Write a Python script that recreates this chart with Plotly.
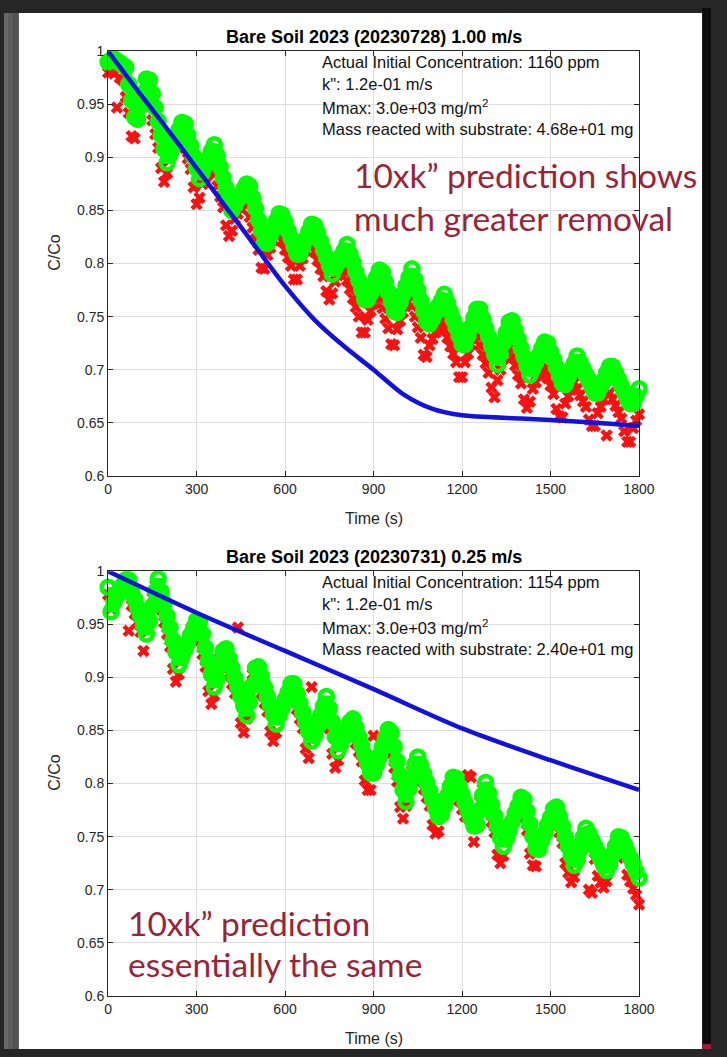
import plotly.graph_objects as go

W, H = 727, 1057

# sampling grid of the measured series (s)
time_s = list(range(0, 1810, 10))

# ---- 2023-07-28, 1.00 m/s ----
top_green = [
    0.990, 0.992, 0.993, 0.991, 0.989, 0.987, 0.985, 0.969, 0.954, 0.938,
    0.936, 0.949, 0.961, 0.974, 0.973, 0.960, 0.947, 0.934, 0.921, 0.908,
    0.895, 0.903, 0.910, 0.918, 0.926, 0.933, 0.932, 0.921, 0.911, 0.901,
    0.890, 0.880, 0.886, 0.893, 0.899, 0.906, 0.912, 0.902, 0.891, 0.881,
    0.871, 0.860, 0.850, 0.855, 0.860, 0.865, 0.870, 0.875, 0.873, 0.862,
    0.852, 0.841, 0.831, 0.820, 0.819, 0.826, 0.833, 0.840, 0.847, 0.846,
    0.839, 0.831, 0.824, 0.816, 0.809, 0.809, 0.816, 0.823, 0.830, 0.837,
    0.836, 0.829, 0.821, 0.813, 0.806, 0.798, 0.790, 0.796, 0.801, 0.807,
    0.812, 0.818, 0.809, 0.801, 0.792, 0.784, 0.775, 0.766, 0.766, 0.772,
    0.780, 0.787, 0.794, 0.792, 0.783, 0.773, 0.764, 0.755, 0.754, 0.763,
    0.771, 0.779, 0.787, 0.795, 0.785, 0.775, 0.765, 0.755, 0.745, 0.743,
    0.748, 0.754, 0.760, 0.765, 0.771, 0.763, 0.755, 0.747, 0.740, 0.732,
    0.724, 0.724, 0.732, 0.740, 0.749, 0.757, 0.757, 0.748, 0.739, 0.731,
    0.722, 0.714, 0.705, 0.715, 0.725, 0.735, 0.745, 0.746, 0.737, 0.729,
    0.720, 0.712, 0.703, 0.695, 0.701, 0.707, 0.713, 0.720, 0.726, 0.725,
    0.717, 0.710, 0.702, 0.694, 0.687, 0.686, 0.693, 0.700, 0.706, 0.713,
    0.707, 0.701, 0.695, 0.690, 0.684, 0.678, 0.678, 0.684, 0.690, 0.697,
    0.703, 0.703, 0.697, 0.691, 0.685, 0.679, 0.673, 0.668, 0.668, 0.675,
    0.682,
]
top_red = [
    0.980, 0.981, 0.979, 0.947, 0.975, 0.973, 0.957, 0.942, 0.920, 0.918,
    0.937, 0.949, 0.962, 0.961, 0.948, 0.935, 0.922, 0.909, 0.890, 0.877,
    0.885, 0.898, 0.906, 0.914, 0.921, 0.920, 0.909, 0.899, 0.889, 0.872,
    0.856, 0.862, 0.875, 0.881, 0.888, 0.894, 0.884, 0.873, 0.863, 0.853,
    0.836, 0.826, 0.831, 0.842, 0.847, 0.852, 0.857, 0.855, 0.844, 0.834,
    0.823, 0.813, 0.796, 0.795, 0.808, 0.815, 0.822, 0.829, 0.828, 0.821,
    0.813, 0.806, 0.798, 0.785, 0.785, 0.798, 0.805, 0.812, 0.819, 0.818,
    0.811, 0.803, 0.795, 0.788, 0.774, 0.766, 0.772, 0.783, 0.789, 0.794,
    0.793, 0.784, 0.776, 0.767, 0.759, 0.750, 0.735, 0.735, 0.747, 0.755,
    0.762, 0.769, 0.767, 0.758, 0.748, 0.739, 0.724, 0.723, 0.738, 0.746,
    0.754, 0.762, 0.770, 0.760, 0.750, 0.740, 0.730, 0.714, 0.712, 0.723,
    0.729, 0.735, 0.740, 0.746, 0.738, 0.730, 0.722, 0.715, 0.707, 0.693,
    0.693, 0.707, 0.715, 0.724, 0.732, 0.732, 0.723, 0.714, 0.706, 0.697,
    0.683, 0.674, 0.690, 0.700, 0.710, 0.720, 0.721, 0.712, 0.704, 0.695,
    0.687, 0.672, 0.664, 0.670, 0.682, 0.688, 0.695, 0.701, 0.700, 0.692,
    0.685, 0.677, 0.663, 0.656, 0.655, 0.668, 0.675, 0.681, 0.688, 0.682,
    0.676, 0.670, 0.665, 0.653, 0.647, 0.647, 0.659, 0.665, 0.672, 0.638,
    0.678, 0.672, 0.666, 0.660, 0.654, 0.642, 0.632, 0.632, 0.645, 0.652,
    0.658,
]
top_model_t = [0, 100, 200, 300, 400, 500, 600, 700, 800, 900, 1000, 1100,
               1200, 1400, 1600, 1800]
top_model = [1.000, 0.963, 0.927, 0.890, 0.853, 0.816, 0.779, 0.747, 0.722,
             0.700, 0.677, 0.663, 0.657, 0.654, 0.651, 0.647]

# ---- 2023-07-31, 0.25 m/s ----
bot_green = [
    0.985, 0.962, 0.971, 0.977, 0.982, 0.987, 0.992, 0.992, 0.983, 0.974,
    0.966, 0.958, 0.949, 0.941, 0.953, 0.967, 0.981, 0.993, 0.981, 0.970,
    0.958, 0.947, 0.935, 0.924, 0.912, 0.919, 0.926, 0.933, 0.940, 0.947,
    0.954, 0.953, 0.941, 0.928, 0.916, 0.903, 0.891, 0.899, 0.912, 0.925,
    0.927, 0.918, 0.909, 0.900, 0.891, 0.882, 0.873, 0.864, 0.877, 0.893,
    0.909, 0.910, 0.901, 0.891, 0.882, 0.874, 0.865, 0.856, 0.864, 0.871,
    0.879, 0.886, 0.894, 0.894, 0.885, 0.876, 0.867, 0.858, 0.849, 0.840,
    0.845, 0.854, 0.864, 0.873, 0.882, 0.871, 0.858, 0.844, 0.831, 0.838,
    0.844, 0.851, 0.858, 0.861, 0.853, 0.844, 0.836, 0.827, 0.819, 0.810,
    0.810, 0.818, 0.826, 0.835, 0.843, 0.851, 0.848, 0.835, 0.821, 0.808,
    0.794, 0.783, 0.795, 0.806, 0.818, 0.825, 0.817, 0.809, 0.801, 0.793,
    0.785, 0.777, 0.769, 0.771, 0.779, 0.788, 0.797, 0.806, 0.805, 0.797,
    0.790, 0.782, 0.775, 0.767, 0.760, 0.761, 0.775, 0.789, 0.801, 0.791,
    0.780, 0.770, 0.760, 0.749, 0.741, 0.748, 0.756, 0.764, 0.772, 0.779,
    0.787, 0.785, 0.774, 0.762, 0.750, 0.739, 0.738, 0.746, 0.753, 0.761,
    0.768, 0.776, 0.778, 0.769, 0.760, 0.750, 0.741, 0.732, 0.723, 0.728,
    0.738, 0.749, 0.758, 0.753, 0.747, 0.741, 0.735, 0.729, 0.723, 0.718,
    0.724, 0.733, 0.741, 0.750, 0.749, 0.743, 0.736, 0.730, 0.724, 0.717,
    0.711,
]
bot_red = [
    0.978, 0.965, 0.971, 0.976, 0.981, 0.986, 0.986, 0.944, 0.968, 0.960,
    0.952, 0.943, 0.925, 0.947, 0.961, 0.975, 0.987, 0.975, 0.964, 0.952,
    0.941, 0.929, 0.908, 0.896, 0.903, 0.920, 0.927, 0.934, 0.941, 0.948,
    0.947, 0.935, 0.922, 0.910, 0.887, 0.875, 0.883, 0.906, 0.919, 0.921,
    0.912, 0.903, 0.894, 0.885, 0.947, 0.857, 0.848, 0.861, 0.887, 0.903,
    0.904, 0.895, 0.885, 0.876, 0.868, 0.849, 0.840, 0.848, 0.865, 0.873,
    0.880, 0.888, 0.888, 0.879, 0.870, 0.861, 0.852, 0.833, 0.824, 0.891,
    0.848, 0.858, 0.867, 0.876, 0.865, 0.852, 0.828, 0.815, 0.822, 0.838,
    0.845, 0.852, 0.855, 0.847, 0.838, 0.830, 0.821, 0.803, 0.794, 0.794,
    0.845, 0.820, 0.829, 0.837, 0.845, 0.842, 0.829, 0.815, 0.802, 0.778,
    0.767, 0.779, 0.800, 0.812, 0.819, 0.811, 0.803, 0.795, 0.787, 0.779,
    0.761, 0.753, 0.755, 0.773, 0.782, 0.791, 0.800, 0.799, 0.791, 0.784,
    0.776, 0.769, 0.808, 0.806, 0.745, 0.759, 0.783, 0.795, 0.785, 0.774,
    0.764, 0.754, 0.733, 0.725, 0.732, 0.750, 0.758, 0.766, 0.773, 0.781,
    0.779, 0.768, 0.756, 0.734, 0.723, 0.722, 0.740, 0.747, 0.755, 0.762,
    0.770, 0.772, 0.763, 0.754, 0.744, 0.725, 0.716, 0.707, 0.712, 0.732,
    0.743, 0.752, 0.747, 0.700, 0.697, 0.729, 0.713, 0.707, 0.702, 0.708,
    0.727, 0.735, 0.744, 0.743, 0.737, 0.730, 0.714, 0.708, 0.701, 0.695,
    0.686,
]
bot_model_t = [0, 300, 600, 900, 1200, 1500, 1800]
bot_model = [1.000, 0.961, 0.925, 0.889, 0.852, 0.822, 0.794]

y_ticks = [0.6, 0.65, 0.7, 0.75, 0.8, 0.85, 0.9, 0.95, 1.0]
y_tick_text = ["0.6", "0.65", "0.7", "0.75", "0.8", "0.85", "0.9", "0.95", "1"]
x_ticks = [0, 300, 600, 900, 1200, 1500, 1800]

panels = [
    dict(title="Bare Soil 2023 (20230728) 1.00 m/s", green=top_green,
         red=top_red, mt=top_model_t, m=top_model,
         info=["Actual Initial Concentration: 1160 ppm", "k\": 1.2e-01 m/s",
               "Mmax: 3.0e+03 mg/m<sup>2</sup>",
               "Mass reacted with substrate: 4.68e+01 mg"],
         top=44, bottom=475),
    dict(title="Bare Soil 2023 (20230731) 0.25 m/s", green=bot_green,
         red=bot_red, mt=bot_model_t, m=bot_model,
         info=["Actual Initial Concentration: 1154 ppm", "k\": 1.2e-01 m/s",
               "Mmax: 3.0e+03 mg/m<sup>2</sup>",
               "Mass reacted with substrate: 2.40e+01 mg"],
         top=572, bottom=1003),
]

X0, X1 = 107, 653
AX_FONT = "Liberation Sans, Arial, sans-serif"
INK = "#262626"


def fx(px):
    return px / W


def fy(py):
    return 1 - py / H


fig = go.Figure()
annotations = []

for i, p in enumerate(panels, start=1):
    xa = "x" if i == 1 else f"x{i}"
    ya = "y" if i == 1 else f"y{i}"
    # measured series
    fig.add_trace(go.Scatter(
        x=time_s, y=p["red"], mode="markers", xaxis=xa, yaxis=ya,
        marker=dict(symbol="x", size=11, color="#ff1010", line=dict(width=0)),
        cliponaxis=False, showlegend=False))
    fig.add_trace(go.Scatter(
        x=time_s, y=p["green"], mode="lines+markers", xaxis=xa, yaxis=ya,
        line=dict(color="#00ff00", width=9),
        marker=dict(symbol="circle-open", size=13, color="#00ff00",
                    line=dict(width=4.5, color="#00ff00")),
        cliponaxis=False, showlegend=False))
    # model prediction
    fig.add_trace(go.Scatter(
        x=p["mt"], y=p["m"], mode="lines", xaxis=xa, yaxis=ya,
        line=dict(color="#1212e0", width=4.5, shape="spline", smoothing=0.8),
        cliponaxis=False, showlegend=False))

    axis_common = dict(showline=True, linecolor=INK, linewidth=1, mirror="ticks",
                       ticks="inside", ticklen=5, tickcolor=INK,
                       showgrid=True, gridcolor="#dedede", gridwidth=1,
                       zeroline=False,
                       tickfont=dict(family=AX_FONT, size=14, color=INK))
    fig.update_layout(**{
        ("xaxis" if i == 1 else f"xaxis{i}"): dict(
            axis_common, domain=[fx(X0), fx(X1)], range=[0, 1800],
            tickvals=x_ticks, anchor=ya),
        ("yaxis" if i == 1 else f"yaxis{i}"): dict(
            axis_common, domain=[fy(p["bottom"]), fy(p["top"])],
            range=[0.6, 1.0], tickvals=y_ticks, ticktext=y_tick_text,
            anchor=xa),
    })

    annotations.append(dict(
        text=f"<b>{p['title']}</b>", x=fx((X0 + X1) / 2), y=fy(p["top"] - 15),
        xref="paper", yref="paper", showarrow=False, xanchor="center",
        yanchor="middle", font=dict(family=AX_FONT, size=18, color="#000000")))
    annotations.append(dict(
        text="Time (s)", x=fx((X0 + X1) / 2), y=fy(p["bottom"] + 43),
        xref="paper", yref="paper", showarrow=False, xanchor="center",
        yanchor="middle", font=dict(family=AX_FONT, size=16, color=INK)))
    annotations.append(dict(
        text="C/Co", x=fx(52), y=fy(p["top"] + 204), textangle=-90,
        xref="paper", yref="paper", showarrow=False, xanchor="center",
        yanchor="middle", font=dict(family=AX_FONT, size=16, color=INK)))
    for k, (line, dy) in enumerate(zip(p["info"], [11, 33, 57, 79])):
        annotations.append(dict(
            text=line, x=fx(325), y=fy(p["top"] + dy), xref="paper",
            yref="paper", showarrow=False, xanchor="left", yanchor="middle",
            font=dict(family=AX_FONT, size=16.5, color="#111111")))

NOTE_FONT = dict(family="Lato, Noto Sans, sans-serif", size=33.5, color="#9b2335")
for text, x, y in [("10xk” prediction shows", 358, 170),
                   ("much greater removal", 358, 213),
                   ("10xk” prediction", 125, 929),
                   ("essentially the same", 125, 971)]:
    annotations.append(dict(text=text, x=fx(x), y=fy(y), xref="paper",
                            yref="paper", showarrow=False, xanchor="left",
                            yanchor="middle", font=NOTE_FONT))


def rect(x0, x1, y0, y1, color):
    return dict(type="rect", xref="paper", yref="paper", x0=fx(x0), x1=fx(x1),
                y0=fy(y1), y1=fy(y0), fillcolor=color, line=dict(width=0),
                layer="below")


shapes = [
    rect(15, 718, 5, 1057, "#ffffff"),
    rect(0, 5, 5, 1057, "#686868"),
    rect(5, 10, 5, 1057, "#5e5e5e"),
    rect(10, 15, 5, 1057, "#545454"),
    rect(718, 727, 0, 1057, "#0c0c0c"),
    rect(718, 727, 1052, 1057, "#a01e32"),
]

fig.update_layout(
    width=W, height=H, autosize=False,
    margin=dict(l=0, r=0, t=0, b=0, pad=0),
    paper_bgcolor="#262626", plot_bgcolor="#ffffff",
    annotations=annotations, shapes=shapes, showlegend=False,
)

page_fit = (
    "document.body.style.margin='0';"
    "document.body.style.background='#262626';"
)

fig.write_html("out.html", config={"displayModeBar": False},
               post_script=page_fit)
